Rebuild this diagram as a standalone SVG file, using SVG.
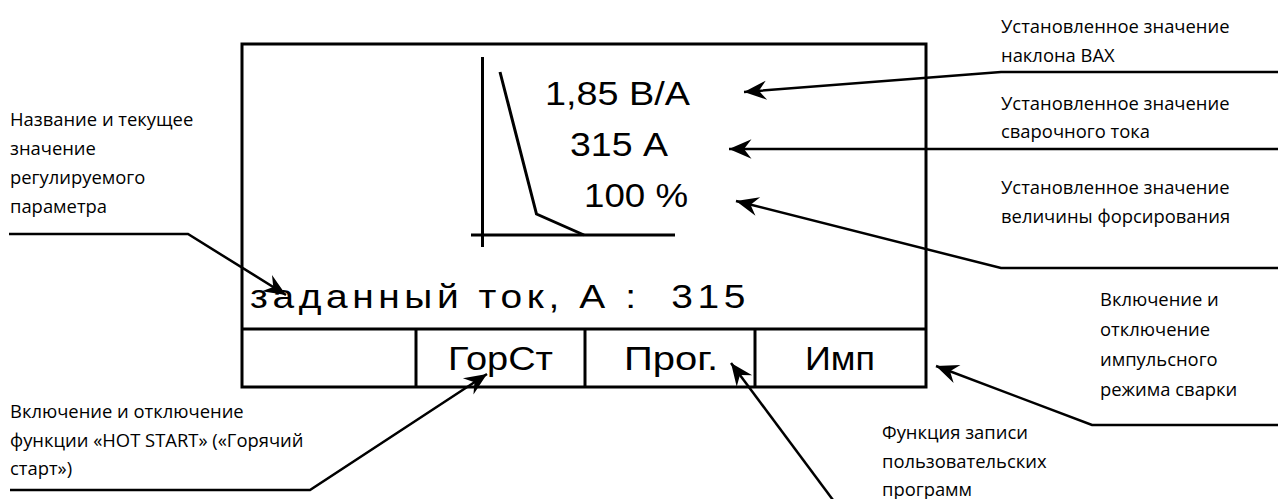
<svg xmlns="http://www.w3.org/2000/svg" width="1278" height="499" viewBox="0 0 1278 499">
<style>
.lbl{font-family:"Open Sans","Noto Sans",sans-serif;font-size:18.4px;fill:#000}
.lcd{font-family:"Liberation Sans",Arial,sans-serif;font-size:34px;fill:#000}
.ln{fill:none;stroke:#000;stroke-width:3}
.cn{fill:none;stroke:#000;stroke-width:2.5;stroke-linejoin:miter}
</style>
<defs>
<marker id="arr" markerUnits="userSpaceOnUse" markerWidth="30" markerHeight="30" viewBox="-24 -12 28 24" refX="0" refY="0" orient="auto">
<path d="M0,0 L-21,-9 L-14,0 L-21,9 Z" fill="#000"/>
</marker>
</defs>
<rect width="1278" height="499" fill="#fff"/>
<g id="display">
<rect class="ln" x="242" y="44" width="684" height="343"/>
<line class="ln" x1="242" y1="329" x2="926" y2="329"/>
</g>
<g id="graph">
<line class="ln" x1="482.5" y1="57" x2="482.5" y2="247"/>
<line class="ln" x1="471" y1="235" x2="675" y2="235"/>
<polyline class="ln" points="500,72 536.5,214 584,235"/>
</g>
<g id="values">
<text class="lcd" x="545" y="105" textLength="145" lengthAdjust="spacingAndGlyphs">1,85 В/А</text>
<text class="lcd" x="570" y="156" textLength="98" lengthAdjust="spacingAndGlyphs">315 А</text>
<text class="lcd" x="584" y="207" textLength="104" lengthAdjust="spacingAndGlyphs">100 %</text>
</g>
<g id="param">
<text class="lcd" x="250" y="308" letter-spacing="4" textLength="500" lengthAdjust="spacingAndGlyphs" xml:space="preserve">заданный ток, А :  315</text>
</g>
<g id="buttons">
<line class="ln" x1="416" y1="329" x2="416" y2="387"/>
<line class="ln" x1="585" y1="329" x2="585" y2="387"/>
<line class="ln" x1="755" y1="329" x2="755" y2="387"/>
<g id="btn-hot"><text class="lcd" x="448" y="370" textLength="105" lengthAdjust="spacingAndGlyphs">ГорСт</text></g>
<g id="btn-prog"><text class="lcd" x="624" y="370" textLength="94" lengthAdjust="spacingAndGlyphs">Прог.</text></g>
<g id="btn-imp"><text class="lcd" x="805" y="370" textLength="70" lengthAdjust="spacingAndGlyphs">Имп</text></g>
</g>
<g id="label-param" class="lbl">
<text x="10" y="126">Название и текущее</text>
<text x="10" y="155">значение</text>
<text x="10" y="184">регулируемого</text>
<text x="10" y="213">параметра</text>
</g>
<g id="label-vax" class="lbl">
<text x="1001" y="33">Установленное значение</text>
<text x="1001" y="62">наклона ВАХ</text>
</g>
<g id="label-current" class="lbl">
<text x="1001" y="110">Установленное значение</text>
<text x="1001" y="138">сварочного тока</text>
</g>
<g id="label-force" class="lbl">
<text x="1001" y="194">Установленное значение</text>
<text x="1001" y="223">величины форсирования</text>
</g>
<g id="label-imp" class="lbl">
<text x="1100" y="306">Включение и</text>
<text x="1100" y="336">отключение</text>
<text x="1100" y="366">импульсного</text>
<text x="1100" y="396">режима сварки</text>
</g>
<g id="label-hot" class="lbl">
<text x="10" y="418">Включение и отключение</text>
<text x="10" y="447">функции «HOT START» («Горячий</text>
<text x="10" y="475">старт»)</text>
</g>
<g id="label-prog" class="lbl">
<text x="882" y="439">Функция записи</text>
<text x="882" y="468">пользовательских</text>
<text x="882" y="496">программ</text>
</g>
<g id="connectors">
<polyline class="cn" points="9,234 188,234 286,295" marker-end="url(#arr)"/>
<polyline class="cn" points="1278,72 1001,72 744,92" marker-end="url(#arr)"/>
<polyline class="cn" points="1278,149 729,149" marker-end="url(#arr)"/>
<polyline class="cn" points="1278,268 1001,268 736,201" marker-end="url(#arr)"/>
<polyline class="cn" points="1278,425 1092,425 936,366" marker-end="url(#arr)"/>
<polyline class="cn" points="10,490 310,490 487,374" marker-end="url(#arr)"/>
<polyline class="cn" points="833,500 731,363" marker-end="url(#arr)"/>
</g>
</svg>
